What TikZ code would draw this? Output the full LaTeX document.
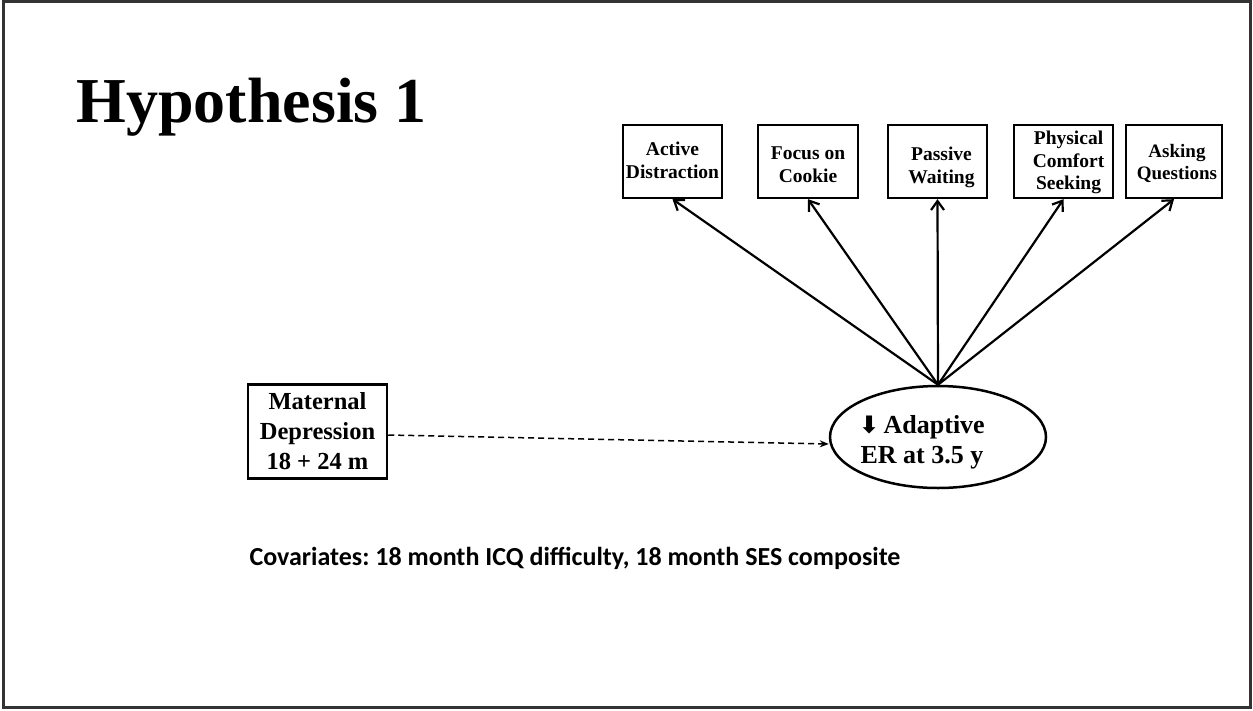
\documentclass[tikz,border=0pt]{standalone}
\usepackage{fontspec}
\setmainfont{Liberation Serif}
\newfontfamily\calib{Carlito}
\newfontfamily\symb{DejaVu Sans}
\usetikzlibrary{arrows.meta,shapes.geometric}
\begin{document}
\frenchspacing
\begin{tikzpicture}[x=1pt,y=-1pt,
  measure/.style={draw,line width=2.3pt,inner sep=0pt,minimum width=99pt,minimum height=73pt},
  boxtext/.style={align=center,inner sep=0pt,font=\bfseries\fontsize{19.5}{23}\selectfont},
  path/.style={line width=2.2pt,-{Straight Barb[length=9pt,width=13pt,line width=2.2pt]}},
  heavy/.style={font=\bfseries\fontsize{24.5}{30}\selectfont,align=center}]
  % page frame
  \path[use as bounding box] (0,0) rectangle (1253,710);
  \draw[line width=2.2pt,black!80] (3.5,1.5) rectangle (1250.5,707.5);

  \node[font=\bfseries\fontsize{64}{66}\selectfont,anchor=base west] (title) at (73,122) {Hypothesis 1};

  % observed indicators (frames, then their captions)
  \node[measure] (ad) at (672.5,161.5) {};
  \node[measure,minimum width=100pt] (fc) at (808,161.5) {};
  \node[measure] (pw) at (937.5,161.5) {};
  \node[measure] (pc) at (1063.5,161.5) {};
  \node[measure,minimum width=96pt] (aq) at (1174,161.5) {};

  \node[boxtext] (adt) at ([yshift=1pt]ad.center) {Active\\Distraction};
  \node[boxtext] (fct) at ([yshift=-3pt]fc.center) {Focus on\\Cookie};
  \node[boxtext] (pwt) at ([xshift=4pt,yshift=-6pt]pw.center) {Passive\\Waiting};
  \node[boxtext,font=\bfseries\fontsize{19.5}{22.5}\selectfont] (pct) at ([xshift=5pt,yshift=-1pt]pc.center) {Physical\\Comfort\\Seeking};
  \node[boxtext,font=\bfseries\fontsize{19}{22}\selectfont] (aqt) at ([xshift=3pt,yshift=-2pt]aq.center) {Asking\\Questions};

  % latent construct
  \node[draw,ellipse,line width=2.5pt,minimum width=216pt,minimum height=102pt,inner sep=0pt] (er) at (938,437) {};
  \node[align=center,inner sep=0pt,font=\bfseries\fontsize{26}{30}\selectfont] (ert)
        at ([xshift=-16pt,yshift=-5pt]er.center)
        {{\symb\fontsize{24}{24}\selectfont ⬇}\,Adaptive\\ER at 3.5 y};

  % predictor
  \node[draw,line width=2.5pt,minimum width=139pt,minimum height=94pt,inner sep=0pt,heavy]
        (md) at (317.5,431.5) {Maternal\\Depression\\18 + 24 m};

  % loadings
  \draw[path] (er.north) -- (ad.south);
  \draw[path] (er.north) -- (fc.south);
  \draw[path] (er.north) -- (pw.south);
  \draw[path] (er.north) -- (pc.south);
  \draw[path] (er.north) -- (aq.south);

  % hypothesised effect
  \draw[line width=1.5pt,dash pattern=on 6pt off 4pt,-{Stealth[length=9pt,width=7pt]}]
        ([yshift=-3.5pt]md.east) -- ([yshift=-7pt]er.west);

  \node[anchor=base west,font=\calib\bfseries\fontsize{26}{30}\selectfont] (cov) at (246,565)
        {Covariates: 18 month ICQ difficulty, 18 month SES composite};
\end{tikzpicture}
\end{document}
